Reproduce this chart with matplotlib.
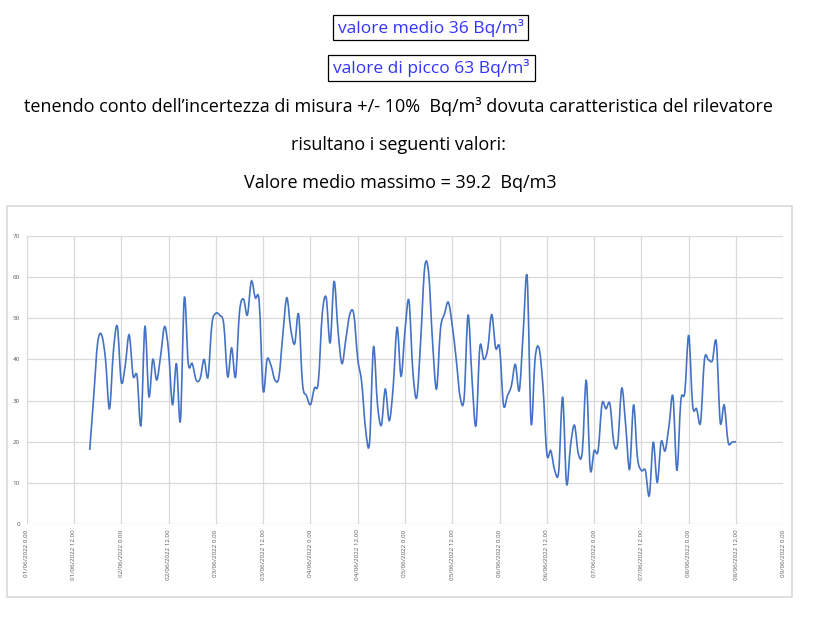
import numpy as np
import pandas as pd
import matplotlib
matplotlib.use("Agg")
import matplotlib.pyplot as plt
import matplotlib.dates as mdates
from matplotlib.path import Path
from matplotlib.patches import PathPatch, Rectangle

# hourly readings, 01/06/2022 16:00 -> 08/06/2022 12:00 (Bq/m3)
start_time = "2022-06-01 16:00"
radon = [
    18, 31, 44, 46, 40, 28, 42, 48,                      # 01/06 16-23
    34.5, 38.5, 46, 36, 36, 24, 48, 31, 40, 35, 41, 48,  # 02/06 0-11
    42, 29, 39, 25, 55, 39, 39, 35, 35.3, 40, 35.7, 48.6,  # 02/06 12-23
    51.2, 50.7, 48.6, 35.8, 42.8, 35.7, 51.5, 54.7, 50.8, 59, 55, 54,  # 03/06 0-11
    32.4, 40, 38.5, 35, 35.7, 46, 55, 47.4, 43.8, 51, 34, 31.2,  # 03/06 12-23
    29, 33, 34.5, 51, 55, 44, 59, 47, 39, 45, 51, 51,  # 04/06 0-11
    40.2, 34.5, 23, 19.7, 43, 29.2, 24, 32.8, 25.1, 33.3, 47.8, 35.9,  # 04/06 12-23
    47, 54.3, 37, 30.8, 45, 62.4, 61, 44.2, 32.8, 47.4, 51, 53.9,  # 05/06 0-11
    48.2, 40, 30.8, 30.6, 50.8, 35.3, 23.9, 43, 40, 42.6, 50.9, 42.8,  # 05/06 12-23
    42.8, 28.9, 31.2, 33.6, 38.8, 32.4, 46.6, 60, 24.6, 40.1, 42.8, 33.6,  # 06/06 0-11
    17, 17.8, 13, 12.8, 30.8, 9.7, 19, 24, 17, 17.6, 34.9, 13.4,  # 06/06 12-23
    17.8, 17.8, 29.2, 28, 29.2, 19.7, 19.7, 33, 24, 13.3, 28.9, 16,  # 07/06 0-11
    13, 13, 6.9, 19.9, 10.1, 20, 17.8, 23.9, 31, 13, 30, 32,  # 07/06 12-23
    45.8, 28.8, 28, 24.7, 40, 39.9, 39.7, 44.2, 24.7, 28.9, 19.9, 19.9,  # 08/06 0-11
    20,                                                  # 08/06 12
]

y_ticks = [0, 10, 20, 30, 40, 50, 60, 70]
x_start = "2022-06-01 00:00"
x_end = "2022-06-09 00:00"

header_lines = [
    "valore medio 36 Bq/m\u00b3",
    "valore di picco 63 Bq/m\u00b3",
    "tenendo conto dell\u2019incertezza di misura +/- 10%  Bq/m\u00b3 dovuta caratteristica del rilevatore",
    "risultano i seguenti valori:",
    "Valore medio massimo = 39.2  Bq/m3",
]

times = pd.date_range(start_time, periods=len(radon), freq="h")


def smooth_path(xs, ys, k=1 / 6):
    # excel-like smoothed line: cubic bezier through every point
    pts = np.column_stack([xs, ys])
    verts = [pts[0]]
    codes = [Path.MOVETO]
    n = len(pts)
    for i in range(n - 1):
        p0 = pts[max(i - 1, 0)]
        p1 = pts[i]
        p2 = pts[i + 1]
        p3 = pts[min(i + 2, n - 1)]
        verts += [p1 + (p2 - p0) * k, p2 - (p3 - p1) * k, p2]
        codes += [Path.CURVE4] * 3
    return Path(verts, codes)


plt.rcParams['font.family'] = ['Open Sans', 'DejaVu Sans']

W, H = 829, 621
fig = plt.figure(figsize=(W / 100, H / 100), dpi=100)


def fx(px):
    return px / W


def fy(py):
    return 1 - py / H


# header text
fig.text(fx(431), fy(28), header_lines[0], color="#3333ff", fontsize=12.5, ha="center", va="center")
fig.text(fx(431), fy(68), header_lines[1], color="#3333ff", fontsize=12.5, ha="center", va="center")
fig.text(fx(399), fy(106), header_lines[2], color="black", fontsize=13, ha="center", va="center")
fig.text(fx(399), fy(145), header_lines[3], color="black", fontsize=13, ha="center", va="center")
fig.text(fx(400), fy(183), header_lines[4], color="black", fontsize=13, ha="center", va="center")

for (x0, y0, x1, y1) in [(333, 15, 528, 40), (328, 55, 535, 81)]:
    fig.add_artist(Rectangle((fx(x0), fy(y1)), fx(x1 - x0), (y1 - y0) / H,
                             transform=fig.transFigure, fill=False, edgecolor="black", linewidth=0.9))

# chart frame
fig.add_artist(Rectangle((fx(7), fy(597)), fx(785), 391 / H, transform=fig.transFigure,
                         fill=False, edgecolor="#d9d9d9", linewidth=1.2))

ax = fig.add_axes([fx(26.7), fy(524), fx(783.3 - 26.7), (524 - 236) / H])
ax.set_xlim(pd.Timestamp(x_start), pd.Timestamp(x_end))
ax.set_ylim(y_ticks[0], y_ticks[-1])
ax.set_yticks(y_ticks)
ax.xaxis.set_major_locator(mdates.HourLocator(byhour=[0, 12]))
ax.xaxis.set_major_formatter(plt.FuncFormatter(
    lambda v, pos: (lambda d: f"{d:%d/%m/%Y} {d.hour}.{d:%M}")(mdates.num2date(v))))

ax.grid(True, color="#d9d9d9", linewidth=0.9)
ax.set_axisbelow(True)
for s in ax.spines.values():
    s.set_visible(False)
ax.tick_params(length=0, colors="#595959", labelsize=4.5, pad=5)
ax.tick_params(axis="x", labelrotation=90, pad=4)

xs = mdates.date2num(times.to_pydatetime())
ax.add_patch(PathPatch(smooth_path(xs, np.array(radon, dtype=float)), fill=False,
                       edgecolor="#4472c4", linewidth=1.2))

fig.savefig("out.png", dpi=100)
